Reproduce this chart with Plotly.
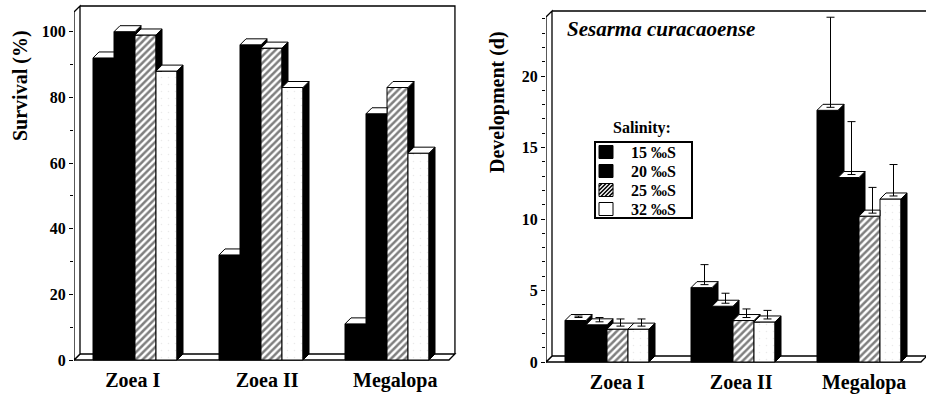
import plotly.graph_objects as go

# ---------------- data ----------------
stages = ["Zoea I", "Zoea II", "Megalopa"]
salinity_labels = ["15 ‰S", "20 ‰S", "25 ‰S", "32 ‰S"]

# survival (%) per salinity, one value per stage
survival_15 = [92, 32, 11]
survival_20 = [100, 96, 75]
survival_25 = [99, 95, 83]
survival_32 = [88, 83, 63]

# development duration (d) per salinity, one value per stage
development_15 = [2.9, 5.2, 17.6]
development_20 = [2.6, 3.9, 12.9]
development_25 = [2.3, 2.9, 10.2]
development_32 = [2.3, 2.8, 11.4]

# standard deviations of development duration
development_sd_15 = [0.1, 1.4, 6.3]
development_sd_20 = [0.3, 0.7, 3.7]
development_sd_25 = [0.5, 0.6, 1.8]
development_sd_32 = [0.5, 0.6, 2.2]

survival = [survival_15, survival_20, survival_25, survival_32]
development = [development_15, development_20, development_25, development_32]
development_sd = [development_sd_15, development_sd_20, development_sd_25, development_sd_32]

# ---------------- geometry / style ----------------
W, H = 926, 396
FONT = "Liberation Serif"
BAR_PX = 21.0          # one bar = one x unit
GROUP_STEP = 6         # x units between group starts
DEPTH_PX = 6.0         # oblique depth offset of the pseudo-3D boxes

HATCH = dict(shape="/", fgcolor="black", bgcolor="white", size=5, solidity=0.5)
FILLS = [
    dict(color="black"),
    dict(color="black"),
    dict(color="white", pattern=HATCH),
    dict(color="white", pattern=dict(shape=".", fgcolor="#d6d6d6", bgcolor="white",
                                     size=7, solidity=0.04)),
]

PANELS = [
    dict(xa="x", ya="y", px_x=(74, 462), origin=93, px_y=(4, 366), zero=360,
         ppu=3.283, wall_top_px=12, ticks=list(range(0, 101, 20)), minor=10,
         label_shift=[-0.25, 0.15, 0.25]),
    dict(xa="x2", ya="y2", px_x=(546, 926), origin=565, px_y=(6, 368), zero=362,
         ppu=14.3, wall_top_px=17, ticks=list(range(0, 21, 5)), minor=1,
         label_shift=[0.35, 0.25, 0.1]),
]
for p in PANELS:
    p["xrange"] = [(p["px_x"][0] - p["origin"]) / BAR_PX, (p["px_x"][1] - p["origin"]) / BAR_PX]
    p["yrange"] = [-(p["px_y"][1] - p["zero"]) / p["ppu"], (p["zero"] - p["px_y"][0]) / p["ppu"]]
    p["dx"] = DEPTH_PX / BAR_PX
    p["dy"] = DEPTH_PX / p["ppu"]
    p["wall_top"] = (p["zero"] - p["wall_top_px"]) / p["ppu"]
    p["floor_right"] = GROUP_STEP * 2 + 4 + 0.95


def clip_above(poly, c):
    """Keep the part of a convex polygon with y >= c."""
    out = []
    n = len(poly)
    for i in range(n):
        a, b = poly[i], poly[(i + 1) % n]
        ain, bin_ = a[1] >= c, b[1] >= c
        if ain:
            out.append(a)
        if ain != bin_:
            t = (c - a[1]) / (b[1] - a[1])
            out.append((a[0] + t * (b[0] - a[0]), c))
    return out


def top_face(L, R, v, nv, dx, dy):
    if nv is None or nv <= v:
        return [(L, v), (R, v), (R + dx, v + dy), (L + dx, v + dy)]
    if nv >= v + dy:
        return [(L, v), (R, v), (R, v + dy), (L + dx, v + dy)]
    return [(L, v), (R, v), (R, nv), (R + (nv - v) * dx / dy, nv),
            (R + dx, v + dy), (L + dx, v + dy)]


def poly_trace(poly, fill, xa, ya, width=1):
    xs = [q[0] for q in poly] + [poly[0][0]]
    ys = [q[1] for q in poly] + [poly[0][1]]
    return go.Scatter(x=xs, y=ys, mode="lines", fill="toself", fillcolor=fill,
                      line=dict(color="black", width=width), hoverinfo="skip",
                      showlegend=False, xaxis=xa, yaxis=ya)


fig = go.Figure()


def draw_panel(p, series, sds):
    xa, ya, dx, dy = p["xa"], p["ya"], p["dx"], p["dy"]
    # front faces
    for j, vals in enumerate(series):
        fig.add_trace(go.Bar(
            x=[GROUP_STEP * g + j + 0.5 for g in range(len(vals))], y=vals, width=1,
            name=salinity_labels[j], marker=dict(line=dict(color="black", width=1), **FILLS[j]),
            showlegend=False, xaxis=xa, yaxis=ya, hoverinfo="skip"))
    # side and top faces, painted left to right
    for g in range(len(stages)):
        for j in range(len(series)):
            L = GROUP_STEP * g + j
            R = L + 1
            v = series[j][g]
            nv = series[j + 1][g] if j + 1 < len(series) else None
            side = [(R, 0), (R, v), (R + dx, v + dy), (R + dx, dy)]
            if nv is not None:
                side = clip_above(side, nv)
            if len(side) >= 3:
                fig.add_trace(poly_trace(side, "black", xa, ya))
            fig.add_trace(poly_trace(top_face(L, R, v, nv, dx, dy), "white", xa, ya))
    # error bars rising from the middle of each top face
    if sds is not None:
        for j, vals in enumerate(series):
            fig.add_trace(go.Scatter(
                x=[GROUP_STEP * g + j + 0.5 + dx / 2 for g in range(len(vals))],
                y=[v + dy / 2 for v in vals], mode="markers",
                marker=dict(size=1, color="rgba(0,0,0,0)"),
                error_y=dict(type="data", symmetric=False, array=sds[j],
                             arrayminus=[0] * len(vals), color="black",
                             thickness=1, width=4),
                showlegend=False, hoverinfo="skip", xaxis=xa, yaxis=ya))


draw_panel(PANELS[0], survival, None)
draw_panel(PANELS[1], development, development_sd)

# walls and floor of each panel
shapes = []
for p in PANELS:
    x0 = p["xrange"][0]
    dx, dy, top, xr = p["dx"], p["dy"], p["wall_top"], p["floor_right"]
    ref = dict(xref=p["xa"], yref=p["ya"], layer="between")
    shapes.append(dict(type="path", path=f"M {x0+dx},{top+dy} L {xr+dx},{top+dy} L {xr+dx},{dy}",
                       line=dict(color="black", width=1.3), **ref))
    shapes.append(dict(type="path", path=f"M {x0},0 L {xr},0 L {xr+dx},{dy} L {x0+dx},{dy} Z",
                       fillcolor="white", line=dict(color="black", width=1.3), **ref))
    shapes.append(dict(type="path", path=f"M {x0},0 L {x0},{top} L {x0+dx},{top+dy} L {x0+dx},{dy} Z",
                       fillcolor="white", line=dict(color="black", width=1.3), **ref))


# salinity key (drawn in pixel units, converted to paper fractions)
def px(x, y):
    return x / W, 1 - y / H


KEY_BOX = (595, 142, 692, 218)
KEY_ROWS = [152, 171, 190, 209]
SW_X = (599, 613)
SW_H = 13
a0, b0 = px(KEY_BOX[0], KEY_BOX[3])
a1, b1 = px(KEY_BOX[2], KEY_BOX[1])
shapes.append(dict(type="rect", xref="paper", yref="paper", x0=a0, y0=b0, x1=a1, y1=b1,
                   fillcolor="white", line=dict(color="black", width=2), layer="above"))
swatch_fill = ["black", "black", "white", "white"]
for j, cy in enumerate(KEY_ROWS):
    sx0, sy0 = px(SW_X[0], cy + SW_H / 2)
    sx1, sy1 = px(SW_X[1], cy - SW_H / 2)
    shapes.append(dict(type="rect", xref="paper", yref="paper", x0=sx0, y0=sy0, x1=sx1, y1=sy1,
                       fillcolor=swatch_fill[j], line=dict(color="black", width=1), layer="above"))
    if j == 2:
        # diagonal hatching inside the swatch
        rx0, rx1, ry0, ry1 = SW_X[0], SW_X[1], cy - SW_H / 2, cy + SW_H / 2
        c = rx0 + ry0 + 3
        while c < rx1 + ry1:
            xa_ = max(rx0, c - ry1)
            xb_ = min(rx1, c - ry0)
            if xb_ > xa_:
                p0 = px(xa_, c - xa_)
                p1 = px(xb_, c - xb_)
                shapes.append(dict(type="line", xref="paper", yref="paper",
                                   x0=p0[0], y0=p0[1], x1=p1[0], y1=p1[1],
                                   line=dict(color="black", width=1.6), layer="above"))
            c += 4

tick_font = dict(family=FONT, size=16, color="black", weight="bold")
label_font = dict(family=FONT, size=20, color="black", weight="bold")
key_font = dict(family=FONT, size=16, color="black", weight="bold")

annotations = []
for j, cy in enumerate(KEY_ROWS):
    kx, ky = px(629, cy)
    annotations.append(dict(text=salinity_labels[j], x=kx, y=ky, xref="paper", yref="paper",
                            xanchor="left", yanchor="middle", showarrow=False, font=key_font))

layout_axes = {}
for i, p in enumerate(PANELS):
    sfx = "" if i == 0 else "2"
    layout_axes["xaxis" + sfx] = dict(
        domain=[p["px_x"][0] / W, p["px_x"][1] / W], range=p["xrange"], anchor="y" + sfx,
        showgrid=False, zeroline=False, showline=False, ticks="", automargin=False,
        tickvals=[GROUP_STEP * g + 2 + p["dx"] / 2 + p["label_shift"][g]
                  for g in range(len(stages))],
        ticktext=stages, tickfont=label_font)
    layout_axes["yaxis" + sfx] = dict(
        domain=[1 - p["px_y"][1] / H, 1 - p["px_y"][0] / H], range=p["yrange"], anchor="x" + sfx,
        showgrid=False, zeroline=False, showline=False, ticks="outside", ticklen=4,
        tickwidth=1.2, tickcolor="black", tickvals=p["ticks"], tickfont=tick_font,
        automargin=False,
        minor=dict(ticks="outside", dtick=p["minor"], ticklen=3, tickcolor="black", tickwidth=1))

annotations += [
    dict(text="Survival (%)", x=21 / W, y=1 - 86 / H, xref="paper", yref="paper",
         xanchor="center", yanchor="middle", textangle=-90, showarrow=False, font=label_font),
    dict(text="Development (d)", x=497 / W, y=1 - 102 / H, xref="paper", yref="paper",
         xanchor="center", yanchor="middle", textangle=-90, showarrow=False, font=label_font),
    dict(text="<i>Sesarma curacaoense</i>", x=661 / W, y=1 - 29 / H, xref="paper", yref="paper",
         xanchor="center", yanchor="middle", showarrow=False,
         font=dict(family=FONT, size=21, color="black", weight="bold")),
    dict(text="Salinity:", x=642 / W, y=1 - 128 / H, xref="paper", yref="paper",
         xanchor="center", yanchor="middle", showarrow=False, font=key_font),
]

fig.update_layout(
    width=W, height=H, margin=dict(l=0, r=0, t=0, b=0, autoexpand=False),
    paper_bgcolor="white", plot_bgcolor="white", barmode="overlay",
    shapes=shapes, annotations=annotations, showlegend=False,
    **layout_axes,
)

fig.write_html("out.html")
